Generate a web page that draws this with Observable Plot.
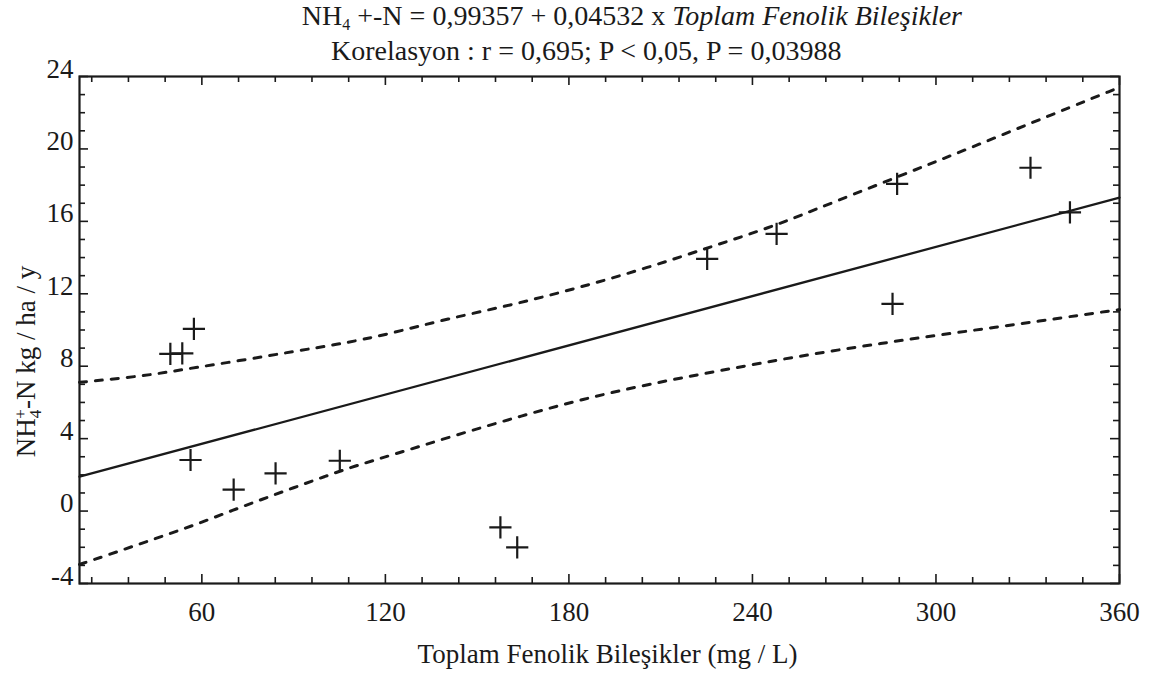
<!DOCTYPE html>
<html><head><meta charset="utf-8">
<script src="https://cdn.jsdelivr.net/npm/d3@7"></script>
<script src="https://cdn.jsdelivr.net/npm/@observablehq/plot@0.6"></script>
<style>
body{margin:0;background:#fff;}
#wrap{position:relative;width:1155px;height:679px;font-family:"Liberation Serif","Times New Roman",serif;color:#1a1a1a;}
#head{position:relative;height:66px;}
.t{position:absolute;white-space:nowrap;font-size:28px;line-height:30px;}
.t sub{font-size:16px;vertical-align:-5px;line-height:0;}
#chart svg text{font-family:"Liberation Serif","Times New Roman",serif !important;}
</style></head>
<body><div id="wrap"><div id="head"></div><div id="chart"></div></div>
<script>
// ---- data ----
const titleLead = "NH";
const titleSub = "4";
const titleMid = " +-N = 0,99357 + 0,04532 x ";
const titleItalic = "Toplam Fenolik Bileşikler";
const subtitle = "Korelasyon : r = 0,695; P < 0,05, P = 0,03988";
const xTitle = "Toplam Fenolik Bileşikler (mg / L)";
const yTitleParts = ["NH", "4", "+", "-N kg / ha / y"];

const phenolics = [49.7, 53.6, 57.4, 56.3, 70.4, 84.1, 105.1, 157.6, 163.1, 225.2, 247.9, 287.3, 285.8, 330.9, 343.8];
const nh4 = [8.68, 8.71, 10.06, 2.82, 1.18, 2.08, 2.78, -0.90, -2.00, 13.93, 15.31, 18.07, 11.44, 18.96, 16.50];

const fitX = [20, 360];
const fitY = [1.90, 17.31];

const upperX = [20, 42.1, 53.0, 72.6, 90.1, 105.3, 120.6, 140.2, 161.9, 183.8, 205.6, 227.4, 245.9, 259.0, 287.3, 311.3, 338.5, 360];
const upperY = [7.11, 7.48, 7.80, 8.31, 8.82, 9.23, 9.75, 10.62, 11.40, 12.36, 13.43, 14.65, 15.67, 16.55, 18.45, 20.06, 21.94, 23.4];

const lowerX = [20, 30, 40, 50, 60, 70, 80, 90, 100, 110, 121.5, 143.1, 164.7, 184.7, 206.3, 229.5, 254.2, 280.4, 306.6, 334, 360];
const lowerY = [-2.95, -2.38, -1.80, -1.22, -0.62, 0.04, 0.67, 1.29, 1.90, 2.49, 3.06, 4.20, 5.27, 6.19, 7.02, 7.76, 8.53, 9.23, 9.85, 10.5, 11.13];

const xMajor = [60, 120, 180, 240, 300, 360];
const xMinor = [24, 36, 48, 72, 84, 96, 108, 132, 144, 156, 168, 192, 204, 216, 228, 252, 264, 276, 288, 312, 324, 336, 348];
const yMajor = [-4, 0, 4, 8, 12, 16, 20, 24];
const yMinor = [-3, -2, -1, 1, 2, 3, 5, 6, 7, 9, 10, 11, 13, 14, 15, 17, 18, 19, 21, 22, 23];

// ---- header ----
const head = document.getElementById("head");
const t1 = document.createElement("div");
t1.className = "t"; t1.style.right = "193px"; t1.style.top = "1px";
t1.append(titleLead);
const sb = document.createElement("sub"); sb.textContent = titleSub; t1.append(sb);
t1.append(titleMid);
const it = document.createElement("i"); it.textContent = titleItalic; t1.append(it);
head.append(t1);
const t2 = document.createElement("div");
t2.className = "t"; t2.style.left = "331px"; t2.style.top = "36px";
t2.textContent = subtitle;
head.append(t2);

// ---- chart ----
const W = 1155, H = 613, mL = 79, mR = 36, mT = 10, mB = 96;
const pw = W - mL - mR, ph = H - mT - mB;
const majorLen = 9, minorLen = 6;
const ink = "#1a1a1a";
const serif = "'Liberation Serif', 'Times New Roman', serif";

const points = phenolics.map((x, i) => ({x, y: nh4[i]}));
const fit = fitX.map((x, i) => ({x, y: fitY[i]}));
const upper = upperX.map((x, i) => ({x, y: upperY[i]}));
const lower = lowerX.map((x, i) => ({x, y: lowerY[i]}));

const chart = Plot.plot({
  width: W, height: H,
  marginLeft: mL, marginRight: mR, marginTop: mT, marginBottom: mB,
  style: {fontFamily: serif, fontSize: "27px", color: ink, background: "white", overflow: "visible"},
  x: {domain: [20, 360]},
  y: {domain: [-4, 24]},
  marks: [
    Plot.axisX({ticks: xMajor, tickSize: 0, tickPadding: 18, tickFormat: d => String(d), label: null, fontSize: 27, fontFamily: serif}),
    Plot.axisY({ticks: yMajor, tickSize: 0, tickPadding: 6, dy: -7.5, tickFormat: d => String(d), label: null, fontSize: 27, fontFamily: serif}),
    // inward ticks, bottom & top
    Plot.tickX(xMajor, {x: d => d, insetTop: ph - majorLen, stroke: ink, strokeWidth: 1.6}),
    Plot.tickX(xMinor, {x: d => d, insetTop: ph - minorLen, stroke: ink, strokeWidth: 1.6}),
    Plot.tickX(xMajor, {x: d => d, insetBottom: ph - majorLen, stroke: ink, strokeWidth: 1.6}),
    Plot.tickX(xMinor, {x: d => d, insetBottom: ph - minorLen, stroke: ink, strokeWidth: 1.6}),
    // inward ticks, left & right
    Plot.tickY(yMajor, {y: d => d, insetRight: pw - majorLen, stroke: ink, strokeWidth: 1.6}),
    Plot.tickY(yMinor, {y: d => d, insetRight: pw - minorLen, stroke: ink, strokeWidth: 1.6}),
    Plot.tickY(yMajor, {y: d => d, insetLeft: pw - majorLen, stroke: ink, strokeWidth: 1.6}),
    Plot.tickY(yMinor, {y: d => d, insetLeft: pw - minorLen, stroke: ink, strokeWidth: 1.6}),
    Plot.line(upper, {x: "x", y: "y", curve: "basis", stroke: ink, strokeWidth: 3, strokeDasharray: "7,9"}),
    Plot.line(lower, {x: "x", y: "y", curve: "basis", stroke: ink, strokeWidth: 3, strokeDasharray: "7,9"}),
    Plot.line(fit, {x: "x", y: "y", stroke: ink, strokeWidth: 2.3}),
    Plot.dot(points, {x: "x", y: "y", symbol: "plus", r: 7.2, stroke: ink, strokeWidth: 2.2}),
    Plot.frame({stroke: ink, strokeWidth: 2.2}),
    Plot.text([xTitle], {frameAnchor: "bottom", dy: 79, dx: 8, fontSize: 27, fontFamily: serif, fill: ink})
  ]
});

// force serif on every text (axes included)
const svg = d3.select(chart);
svg.selectAll("g").filter(function() { return this.getAttribute("font-family") || this.getAttribute("font-variant"); })
  .attr("font-family", serif).attr("font-variant", null);
svg.selectAll("text").style("font-family", serif);

// rotated y title with subscript/superscript
const yt = svg.append("text")
  .attr("transform", `translate(35,${361.5 - 66}) rotate(-90)`)
  .attr("text-anchor", "middle")
  .attr("fill", ink)
  .attr("font-family", serif)
  .attr("font-size", 27);
yt.append("tspan").text(yTitleParts[0]);
yt.append("tspan").attr("font-size", 17).attr("dy", 6).text(yTitleParts[1]);
yt.append("tspan").attr("font-size", 17).attr("dx", -9).attr("dy", -15).text(yTitleParts[2]);
yt.append("tspan").attr("dy", 9).text(yTitleParts[3]);

document.getElementById("chart").append(chart);
</script>
</body></html>
